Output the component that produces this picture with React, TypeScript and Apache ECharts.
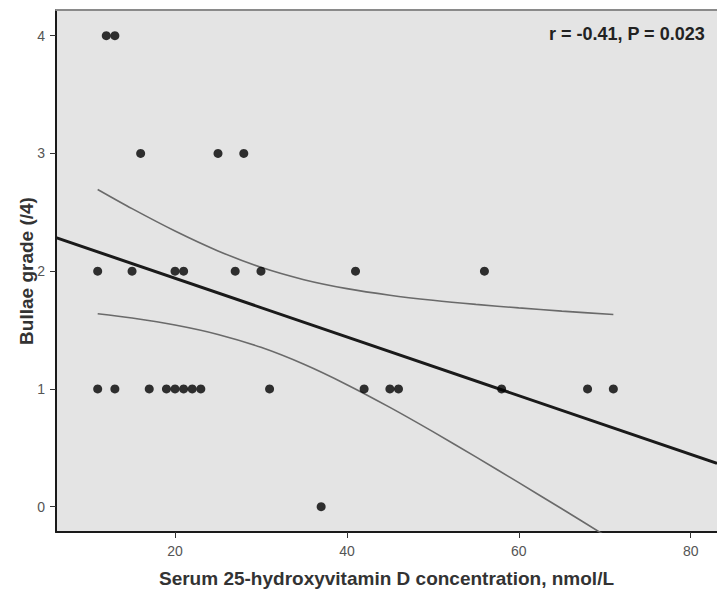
import React, { useEffect, useRef } from "react";
import * as echarts from "echarts";

// Serum 25(OH)D (nmol/L) vs bullae grade
const grade4X = [12, 13];
const grade3X = [16, 25, 28];
const grade2X = [11, 15, 20, 21, 27, 30, 41, 56];
const grade1X = [11, 13, 17, 19, 20, 21, 22, 23, 31, 42, 45, 46, 58, 68, 71];
const grade0X = [37];

// Regression line (endpoints at the plot edges) and 95% CI curves
const fitLine: [number, number][] = [
  [6.15, 2.285],
  [83.06, 0.368],
];
const ciUpper: [number, number][] = [
  [11, 2.694], [15, 2.531], [20, 2.341], [25, 2.172], [30, 2.033], [35, 1.928],
  [40, 1.852], [45, 1.796], [50, 1.753], [55, 1.718], [60, 1.688], [65, 1.661], [71, 1.632],
];
const ciLower: [number, number][] = [
  [11, 1.639], [15, 1.602], [20, 1.543], [25, 1.463], [30, 1.353], [35, 1.209],
  [40, 1.036], [45, 0.843], [50, 0.637], [55, 0.423], [60, 0.204], [65, -0.018], [71, -0.288],
];

const xTicks = [20, 40, 60, 80];
const yTicks = [0, 1, 2, 3, 4];
const statText = "r = -0.41, P = 0.023";

export default function App() {
  const ref = useRef<HTMLDivElement>(null);
  useEffect(() => {
    if (!ref.current) return;
    const chart = echarts.init(ref.current, null, { renderer: "svg" });
    const points: [number, number][] = [
      ...grade4X.map((x) => [x, 4] as [number, number]),
      ...grade3X.map((x) => [x, 3] as [number, number]),
      ...grade2X.map((x) => [x, 2] as [number, number]),
      ...grade1X.map((x) => [x, 1] as [number, number]),
      ...grade0X.map((x) => [x, 0] as [number, number]),
    ];
    const font = "'Liberation Sans', Arial, sans-serif";
    chart.setOption({
      animation: false,
      backgroundColor: "#ffffff",
      grid: {
        left: 56,
        top: 10,
        right: 0,
        bottom: 65,
        show: true,
        backgroundColor: "#e4e4e4",
        borderWidth: 0,
      },
      xAxis: [
        {
          type: "value",
          min: 6.15,
          max: 83.06,
          splitLine: { show: false },
          axisLine: { show: true, onZero: false, lineStyle: { color: "#1a1a1a", width: 2 } },
          axisTick: { show: true, customValues: xTicks, length: 6, lineStyle: { color: "#333", width: 1 } },
          axisLabel: {
            customValues: xTicks,
            margin: 12,
            color: "#555",
            fontSize: 14,
            fontFamily: font,
          },
          name: "Serum 25-hydroxyvitamin D concentration, nmol/L",
          nameLocation: "middle",
          nameGap: 37,
          nameMoveOverlap: false,
          nameTextStyle: { color: "#333", fontSize: 19, fontWeight: "bold", fontFamily: font },
        },
        {
          type: "value",
          position: "top",
          min: 6.15,
          max: 83.06,
          splitLine: { show: false },
          axisLine: { show: true, onZero: false, lineStyle: { color: "#8a8a8a", width: 2 } },
          axisTick: { show: false },
          axisLabel: { show: false },
        },
      ],
      yAxis: {
        type: "value",
        min: -0.215,
        max: 4.218,
        splitLine: { show: false },
        axisLine: { show: true, onZero: false, lineStyle: { color: "#1a1a1a", width: 2 } },
        axisTick: { show: true, customValues: yTicks, length: 6, lineStyle: { color: "#333", width: 1 } },
        axisLabel: {
          customValues: yTicks,
          margin: 11,
          color: "#555",
          fontSize: 14,
          fontFamily: font,
        },
        name: "Bullae grade (/4)",
        nameLocation: "middle",
        nameGap: 20,
        nameMoveOverlap: false,
        nameTextStyle: { color: "#333", fontSize: 19, fontWeight: "bold", fontFamily: font },
      },
      series: [
        {
          type: "line",
          data: ciUpper,
          smooth: 0.3,
          symbol: "none",
          lineStyle: { color: "#6a6a6a", width: 1.6 },
          z: 2,
        },
        {
          type: "line",
          data: ciLower,
          smooth: 0.3,
          symbol: "none",
          clip: true,
          lineStyle: { color: "#6a6a6a", width: 1.6 },
          z: 2,
        },
        {
          type: "line",
          data: fitLine,
          symbol: "none",
          clip: true,
          lineStyle: { color: "#1a1a1a", width: 3 },
          z: 3,
        },
        {
          type: "scatter",
          data: points,
          symbol: "circle",
          symbolSize: 9,
          itemStyle: { color: "#000000" },
          z: 5,
        },
      ],
      graphic: [
        {
          type: "text",
          right: 12,
          top: 25,
          style: {
            text: statText,
            fill: "#222",
            font: `bold 18px ${font}`,
          },
        },
      ],
    });
    return () => chart.dispose();
  }, []);
  return (
    <div
      ref={ref}
      style={{ position: "absolute", left: 0, top: 0, width: 717, height: 597 }}
    />
  );
}
